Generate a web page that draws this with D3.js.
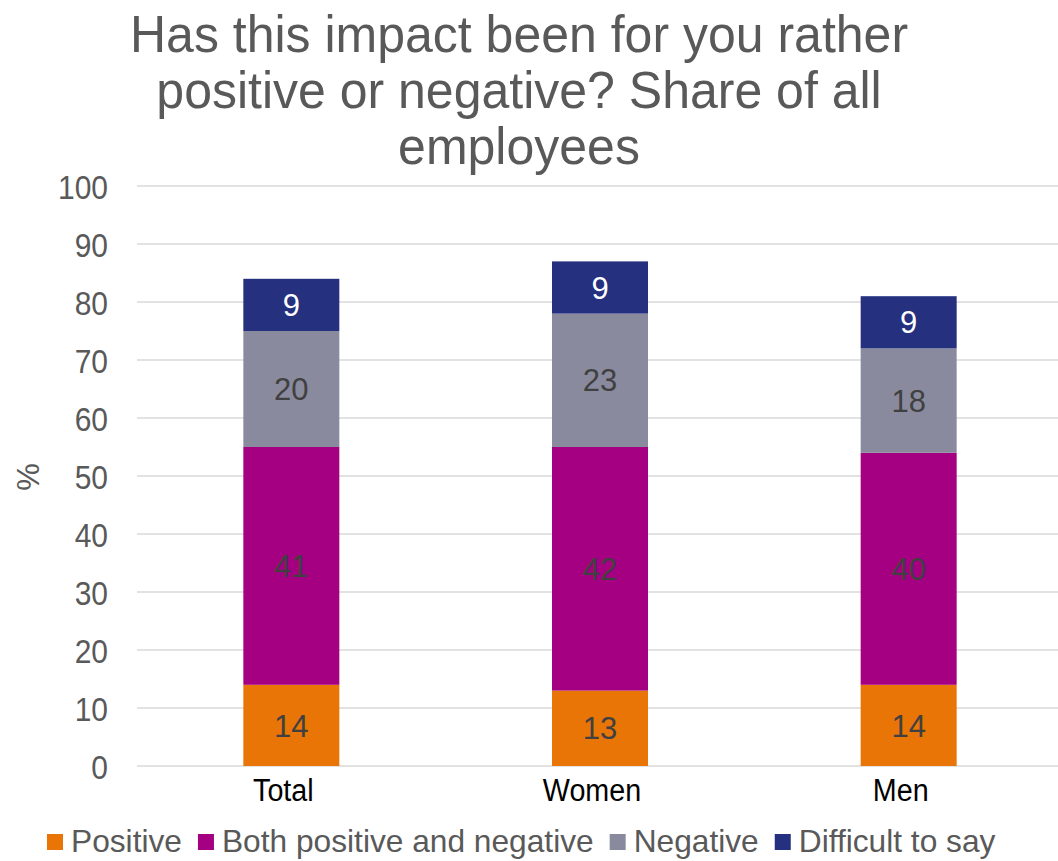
<!DOCTYPE html>
<html>
<head>
<meta charset="utf-8">
<script src="https://cdn.jsdelivr.net/npm/d3@7"></script>
<style>
  html, body { margin: 0; padding: 0; background: #ffffff; }
  svg { display: block; font-family: "Liberation Sans", Arial, sans-serif; }
</style>
</head>
<body>
<svg id="chart" width="1058" height="861"></svg>
<script>
// Survey answers, share of all employees (%)
const categories = ["Total", "Women", "Men"];
const seriesNames = ["Positive", "Both positive and negative", "Negative", "Difficult to say"];
const positive = [14, 13, 14];
const bothPosNeg = [41, 42, 40];
const negative = [20, 23, 18];
const difficult = [9, 9, 9];
const yTicks = [0, 10, 20, 30, 40, 50, 60, 70, 80, 90, 100];
const titleLines = ["Has this impact been for you rather", "positive or negative? Share of all", "employees"];

const FONT = "'Liberation Sans', Arial, sans-serif";
const colors = ["#E97506", "#A50082", "#8A8A9E", "#25307F"];
const labelColors = ["#404040", "#404040", "#404040", "#ffffff"];

const rows = categories.map((c, i) => ({
  category: c,
  "Positive": positive[i],
  "Both positive and negative": bothPosNeg[i],
  "Negative": negative[i],
  "Difficult to say": difficult[i]
}));

const svg = d3.select("#chart");

const x = d3.scaleBand()
  .domain(categories)
  .range([137, 1063])
  .paddingInner(0.689)
  .paddingOuter(0.3445);

const y = d3.scaleLinear().domain([0, 100]).range([766, 186]);

// Title
svg.append("g")
  .selectAll("text")
  .data(titleLines)
  .join("text")
  .attr("transform", (d, i) => `translate(519,${52 + i * 56}) scale(1,1.03)`)
  .attr("text-anchor", "middle")
  .attr("font-family", FONT)
  .attr("font-size", 50)
  .attr("fill", "#595959")
  .text(d => d);

// Gridlines
svg.append("g")
  .selectAll("line")
  .data(yTicks)
  .join("line")
  .attr("x1", 137)
  .attr("x2", 1058)
  .attr("y1", d => y(d))
  .attr("y2", d => y(d))
  .attr("stroke", "#d9d9d9")
  .attr("stroke-width", 1.5);

// Y axis tick labels
const yAxis = d3.axisLeft(y).tickValues(yTicks).tickSize(0).tickPadding(0);
const yg = svg.append("g").attr("transform", "translate(108,0)").call(yAxis);
yg.select(".domain").remove();
yg.selectAll("text")
  .attr("font-size", 30)
  .attr("font-family", FONT)
  .attr("fill", "#595959")
  .attr("dy", "0.36em")
  .attr("transform", "scale(1,1.12)");

// Y axis title
svg.append("text")
  .attr("transform", "translate(39,477) rotate(-90)")
  .attr("text-anchor", "middle")
  .attr("font-family", FONT)
  .attr("font-size", 31)
  .attr("fill", "#595959")
  .text("%");

// Stacked bars
const stack = d3.stack().keys(seriesNames);
const stacked = stack(rows);

const layers = svg.append("g")
  .selectAll("g")
  .data(stacked)
  .join("g")
  .attr("fill", (d, i) => colors[i]);

layers.selectAll("rect")
  .data(d => d)
  .join("rect")
  .attr("x", d => x(d.data.category))
  .attr("width", x.bandwidth())
  .attr("y", d => y(d[1]))
  .attr("height", d => y(d[0]) - y(d[1]));

// Segment value labels
const labelLayers = svg.append("g")
  .selectAll("g")
  .data(stacked)
  .join("g")
  .attr("fill", (d, i) => labelColors[i]);

labelLayers.selectAll("text")
  .data(d => d.map(v => ({ v, key: d.key })))
  .join("text")
  .attr("x", d => x(d.v.data.category) + x.bandwidth() / 2)
  .attr("y", d => y((d.v[0] + d.v[1]) / 2))
  .attr("dy", "0.36em")
  .attr("text-anchor", "middle")
  .attr("font-family", FONT)
  .attr("font-size", 31)
  .text(d => d.v.data[d.key]);

// Category axis labels
const xAxis = d3.axisBottom(x).tickSize(0).tickPadding(0);
const xg = svg.append("g").attr("transform", "translate(0,801)").call(xAxis);
xg.select(".domain").remove();
xg.selectAll("text")
  .attr("font-size", 28.7)
  .attr("font-family", FONT)
  .attr("fill", "#000000")
  .attr("x", -8)
  .attr("dy", 0)
  .attr("y", 0)
  .attr("transform", "scale(1,1.08)");

// Legend
const legend = svg.append("g").attr("transform", "translate(47,0)");
let lx = 0;
seriesNames.forEach((name, i) => {
  const item = legend.append("g").attr("transform", `translate(${lx},0)`);
  item.append("rect")
    .attr("x", 0).attr("y", 834)
    .attr("width", 16).attr("height", 16)
    .attr("fill", colors[i]);
  const t = item.append("text")
    .attr("x", 24).attr("y", 852)
    .attr("font-family", FONT)
    .attr("font-size", 31.7)
    .attr("fill", "#595959")
    .text(name);
  lx += 24 + t.node().getComputedTextLength() + 16;
});
</script>
</body>
</html>
